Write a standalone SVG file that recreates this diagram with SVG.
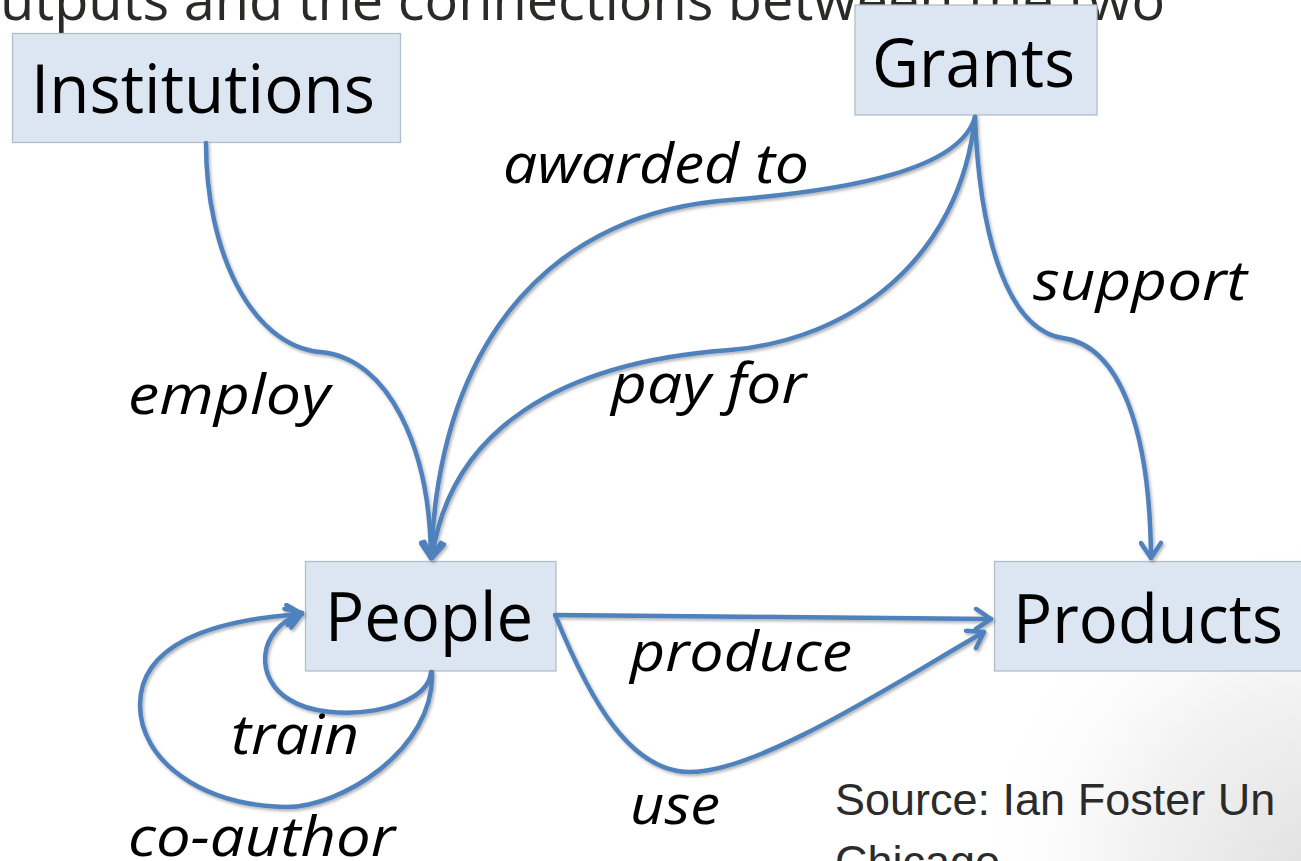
<svg xmlns="http://www.w3.org/2000/svg" width="1301" height="861" viewBox="0 0 1301 861">
<defs>
<style>
.box{fill:#dce6f2;stroke:#b4bdca;stroke-width:1.3}
.ntext{font-family:"Open Sans","Lato",sans-serif;font-size:68px;fill:#000}
.lbl{font-family:"Open Sans","Lato",sans-serif;font-style:italic;font-size:54px;fill:#000}
.edge{fill:none;stroke:#4f81bd;stroke-width:4.5;stroke-linecap:round;marker-end:url(#arr)}
.title{font-family:"Open Sans","Lato",sans-serif;font-size:56px;fill:#2a2a26}
.src{font-family:"Liberation Sans",Arial,sans-serif;font-size:45px;fill:#2b2b2b}
</style>
<marker id="arr" viewBox="-20 -12 24 24" markerWidth="24" markerHeight="24" refX="0" refY="0" orient="auto" markerUnits="userSpaceOnUse">
<path d="M-15,-10 L0,0 L-15,10" fill="none" stroke="#4f81bd" stroke-width="4.5" stroke-linecap="round" stroke-linejoin="round"/>
</marker>
<filter id="sh" x="-10%" y="-10%" width="120%" height="120%">
<feDropShadow dx="1.5" dy="2" stdDeviation="1.5" flood-color="#000" flood-opacity="0.3"/>
</filter>
<radialGradient id="bg" cx="1320" cy="880" r="360" gradientUnits="userSpaceOnUse">
<stop offset="0" stop-color="#e0e0e0"/>
<stop offset="0.55" stop-color="#f3f3f3"/>
<stop offset="1" stop-color="#ffffff" stop-opacity="0"/>
</radialGradient>
</defs>
<rect x="0" y="0" width="1301" height="861" fill="#ffffff"/>
<rect x="900" y="500" width="401" height="361" fill="url(#bg)"/>
<text class="title" x="0" y="20" textLength="1165" lengthAdjust="spacingAndGlyphs">utputs and the connections between the two</text>

<g id="institutions">
<rect class="box" x="12.5" y="33.5" width="388" height="109"/>
<text class="ntext" x="31" y="113" textLength="344" lengthAdjust="spacingAndGlyphs">Institutions</text>
</g>
<g id="grants">
<rect class="box" x="855" y="5" width="242" height="110"/>
<text class="ntext" x="872" y="87" textLength="203" lengthAdjust="spacingAndGlyphs">Grants</text>
</g>
<g id="people">
<rect class="box" x="305.5" y="561.5" width="250.5" height="109.5"/>
<text class="ntext" x="325" y="641" textLength="208" lengthAdjust="spacingAndGlyphs">People</text>
</g>
<g id="products">
<rect class="box" x="994.5" y="561.5" width="320" height="109.5"/>
<text class="ntext" x="1013" y="643" textLength="270" lengthAdjust="spacingAndGlyphs">Products</text>
</g>

<g id="connectors" filter="url(#sh)">
<path id="e-employ" class="edge" d="M206,143 C206,250 250,345 320,352 C390,358 430,450 431,558"/>
<path id="e-awarded" class="edge" d="M975,117 C960,170 850,190 730,200 C560,212 440,330 431,558"/>
<path id="e-payfor" class="edge" d="M975,117 C960,260 850,340 730,350 C560,362 450,430 432,558"/>
<path id="e-support" class="edge" d="M975,117 C980,245 1010,330 1063,338 C1120,346 1150,430 1151,558"/>
<path id="e-produce" class="edge" d="M555,615 L991,619"/>
<path id="e-use" class="edge" d="M556,617 C590,700 630,772 690,772 C760,772 900,680 984,632"/>
<path id="e-train" class="edge" d="M431,672 C428,712 330,725 290,700 C255,680 255,630 302,613"/>
<path id="e-coauthor" class="edge" d="M432,672 C435,750 340,808 285,807 C200,805 140,760 140,705 C140,645 210,620 302,614"/>
</g>

<g id="labels">
<text class="lbl" x="503" y="183" textLength="306" lengthAdjust="spacingAndGlyphs">awarded to</text>
<text class="lbl" x="128" y="414" textLength="202" lengthAdjust="spacingAndGlyphs">employ</text>
<text class="lbl" x="611" y="403" textLength="195" lengthAdjust="spacingAndGlyphs">pay for</text>
<text class="lbl" x="1033" y="300" textLength="214" lengthAdjust="spacingAndGlyphs">support</text>
<text class="lbl" x="630" y="671" textLength="222" lengthAdjust="spacingAndGlyphs">produce</text>
<text class="lbl" x="231" y="754" textLength="128" lengthAdjust="spacingAndGlyphs">train</text>
<text class="lbl" x="128" y="856" textLength="267" lengthAdjust="spacingAndGlyphs">co-author</text>
<text class="lbl" x="630" y="824" textLength="90" lengthAdjust="spacingAndGlyphs">use</text>
</g>

<g id="source">
<text class="src" x="835" y="815">Source: Ian Foster Un</text>
<text class="src" x="835" y="877">Chicago</text>
</g>
</svg>
